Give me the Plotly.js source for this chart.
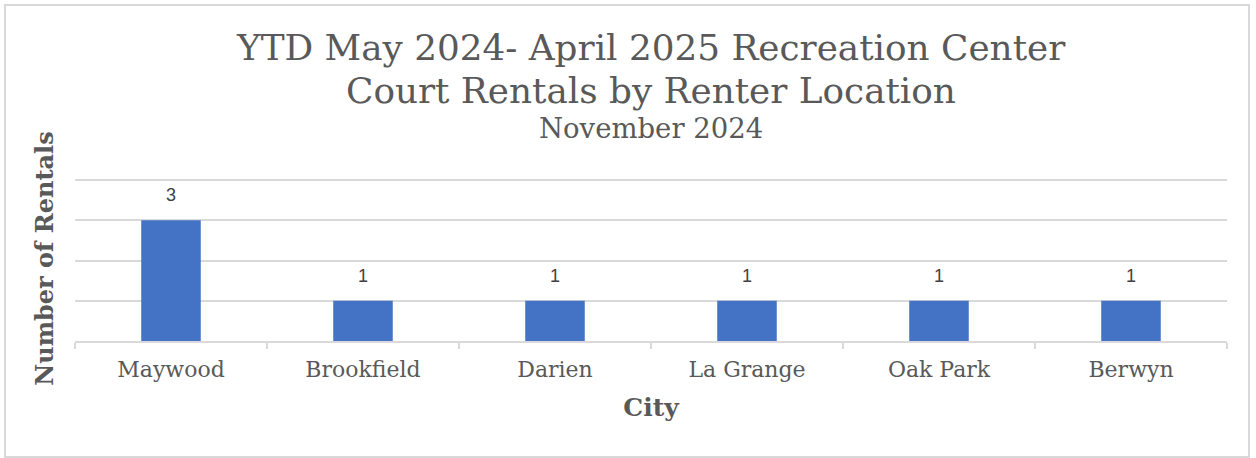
<!DOCTYPE html>
<html>
<head>
<meta charset="utf-8">
<script src="https://cdn.plot.ly/plotly-3.0.1.min.js"></script>
<style>
  html, body { margin: 0; padding: 0; background: #fff; }
  #wrap { position: relative; width: 1256px; height: 458px; }
  #chart { width: 1256px; height: 458px; }
  #frame { position: absolute; left: 4px; top: 4px; width: 1242px; height: 450px;
           border: 2px solid #d9d9d9; pointer-events: none; }
</style>
</head>
<body>
<div id="wrap">
  <div id="chart"></div>
  <div id="frame"></div>
</div>
<script>
const cities = ["Maywood", "Brookfield", "Darien", "La Grange", "Oak Park", "Berwyn"];
const rentals = [3, 1, 1, 1, 1, 1];
const titleLines = ["YTD May 2024- April 2025 Recreation Center", "Court Rentals by Renter Location"];
const subtitle = "November 2024";
const yTitle = "Number of Rentals";
const xTitle = "City";

const serif = "DejaVu Serif, Liberation Serif, serif";
const grey = "#595959";

// plot area in pixels
const PT = 176, PB = 341;
const py = Y => (PB - Y) / (PB - PT);

const trace = {
  type: "bar",
  x: cities,
  y: rentals,
  marker: { color: "#4472C4" },
  width: 0.31,
  hoverinfo: "none"
};

const labelAnns = cities.map((c, i) => ({
  x: c, y: rentals[i], xref: "x", yref: "y",
  text: String(rentals[i]), showarrow: false,
  yanchor: "middle", yshift: 25,
  font: { family: "Liberation Sans, Arial, sans-serif", size: 18, color: "#404040" }
}));

const titleAnns = [
  { text: titleLines[0], y: py(47), size: 35.8 },
  { text: titleLines[1], y: py(90), size: 35.8 },
  { text: subtitle, y: py(128), size: 27.5 }
].map(t => ({
  text: t.text, xref: "paper", yref: "paper", x: 0.5, y: t.y,
  xanchor: "center", yanchor: "middle", showarrow: false,
  font: { family: serif, size: t.size, color: grey }
}));

const layout = {
  width: 1256, height: 458,
  margin: { l: 75, r: 29, t: PT, b: 458 - PB },
  paper_bgcolor: "#fff", plot_bgcolor: "#fff",
  showlegend: false,
  xaxis: {
    type: "category",
    showline: true, linecolor: "#d9d9d9", linewidth: 2,
    ticks: "outside", tickson: "boundaries", ticklen: 6, tickcolor: "#d9d9d9", tickwidth: 2,
    ticklabelstandoff: 8,
    tickfont: { family: serif, size: 22, color: grey },
    showgrid: false,
    title: { text: "<b>" + xTitle + "</b>", font: { family: serif, size: 25, color: grey }, standoff: 17 }
  },
  yaxis: {
    range: [0, 4.1], tick0: 0, dtick: 1,
    showticklabels: false,
    showgrid: true, gridcolor: "#d9d9d9", gridwidth: 2,
    zeroline: false, showline: false,
    title: { text: "<b>" + yTitle + "</b>", font: { family: serif, size: 24, color: grey }, standoff: 13 }
  },
  annotations: labelAnns.concat(titleAnns)
};

Plotly.newPlot("chart", [trace], layout, { displayModeBar: false, staticPlot: true });
</script>
</body>
</html>
